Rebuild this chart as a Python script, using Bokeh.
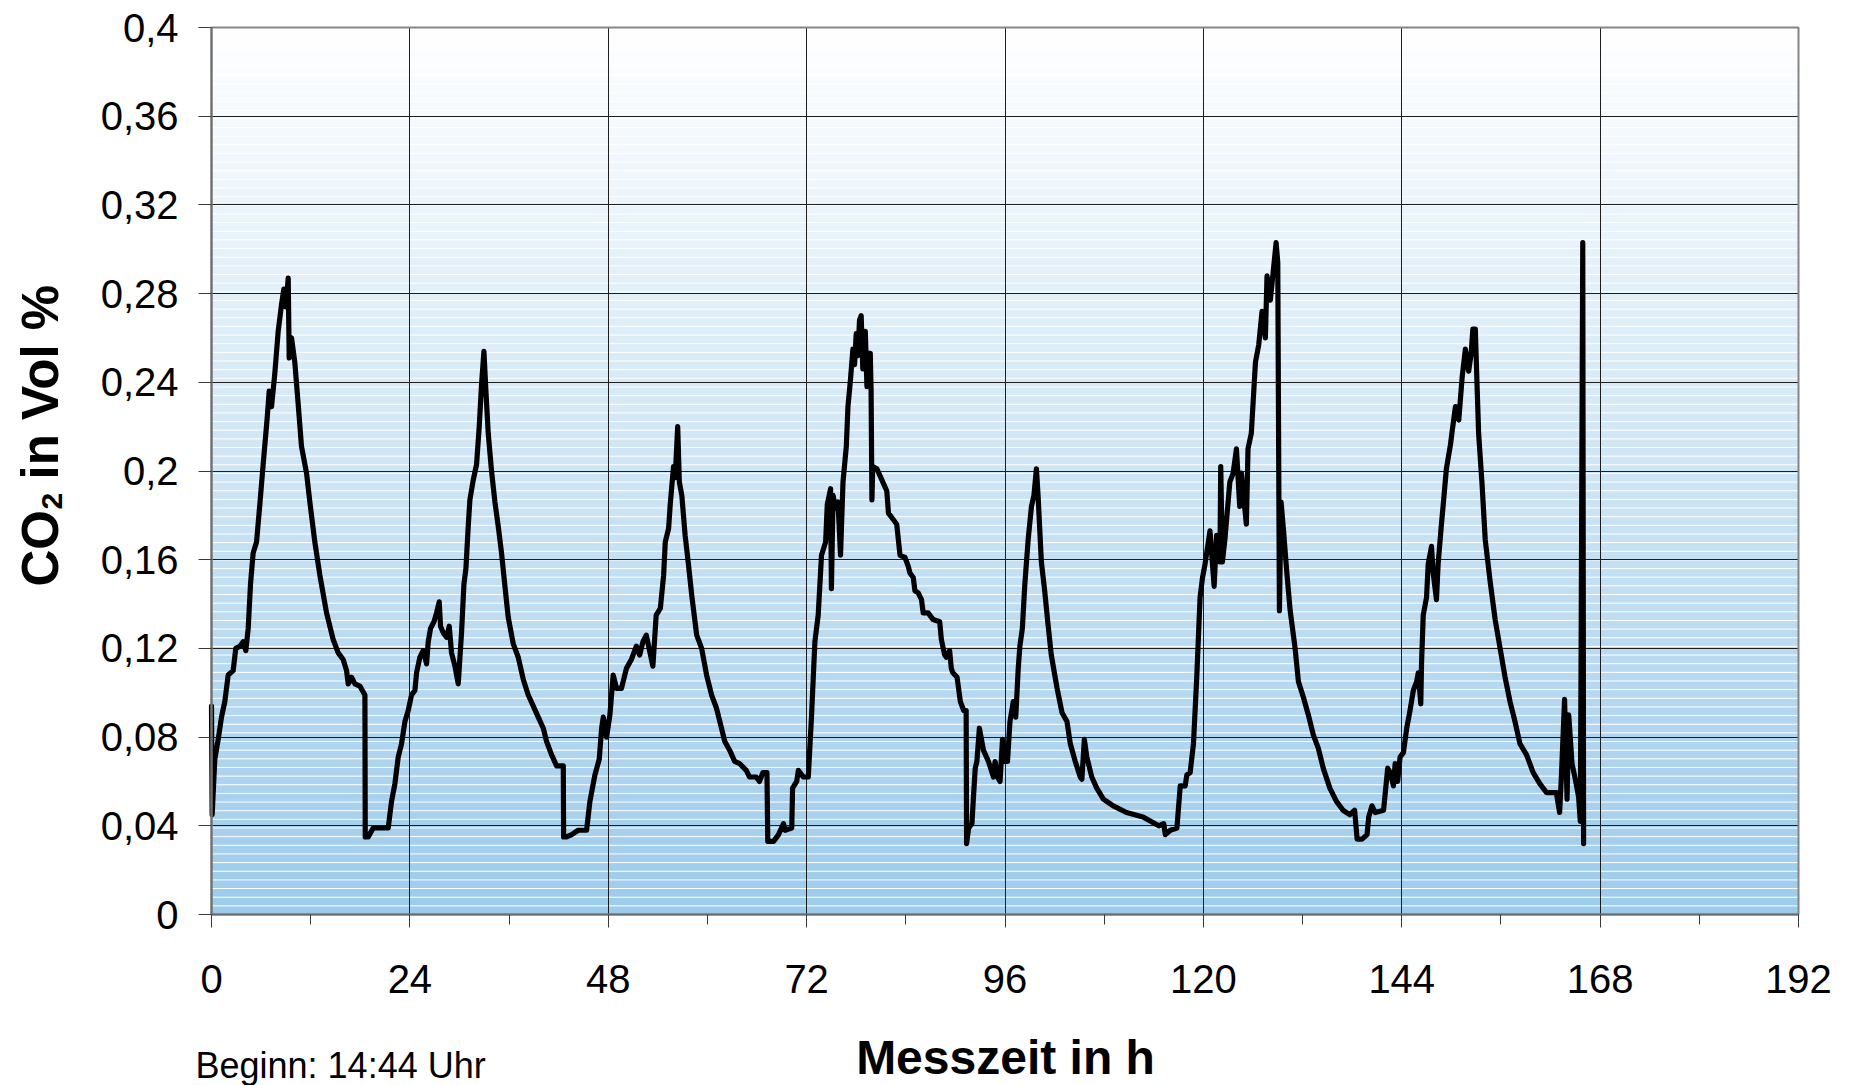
from bokeh.plotting import figure
from bokeh.models import Range1d, FixedTicker, Label, ColumnDataSource
from bokeh.embed import file_html
from bokeh.resources import INLINE

# Measured CO2 concentration over the measuring period
hours = [
    0.0, 0.08, 0.40, 0.81, 1.21, 1.61, 2.02, 2.62, 2.94, 3.43, 3.83, 4.15, 4.44, 4.72, 5.04, 5.45,
    5.85, 6.25, 6.74, 6.98, 7.26, 7.66, 8.07, 8.47, 8.75, 9.00, 9.28, 9.40, 9.68, 10.08, 10.49,
    10.89, 11.50, 11.90, 12.50, 13.11, 13.92, 14.72, 15.33, 15.93, 16.34, 16.54, 16.94, 17.35,
    17.95, 18.56, 18.60, 18.96, 19.56, 20.37, 21.38, 21.78, 22.19, 22.59, 22.99, 23.40, 23.80,
    24.20, 24.61, 24.81, 25.21, 25.61, 26.02, 26.22, 26.50, 26.91, 27.23, 27.55, 27.71, 28.04,
    28.44, 28.76, 29.04, 29.45, 29.85, 30.25, 30.54, 30.78, 31.06, 31.26, 31.67, 32.07, 32.39,
    32.67, 32.96, 33.20, 33.48, 33.88, 34.29, 34.69, 35.09, 35.50, 35.90, 36.51, 37.11, 37.72,
    38.32, 38.93, 39.53, 40.14, 40.54, 41.15, 41.75, 42.56, 42.60, 42.96, 43.57, 44.37, 45.38,
    45.78, 46.39, 46.91, 47.20,
    47.4, 47.8, 48.2, 48.6, 49.0, 49.6, 50.2, 50.8, 51.4, 51.8, 52.2, 52.6, 53.0, 53.4, 53.8,
    54.3, 54.7, 54.9, 55.3, 55.5, 55.9, 56.1, 56.4, 56.6, 56.9, 57.3, 57.7, 58.1, 58.7, 59.3,
    59.9, 60.5, 61.1, 61.7, 62.1, 62.7, 63.3, 63.9, 64.7, 65.1, 65.9, 66.3, 66.7, 67.2, 67.3,
    68.0, 68.6, 69.2, 69.4, 70.2, 70.3, 70.8, 71.0, 71.6, 72.2, 72.6, 73.0, 73.4, 73.8, 74.3,
    74.5, 74.9, 75.0, 75.2, 75.5, 75.8, 76.1, 76.4, 76.8, 77.0, 77.3,
    77.6, 77.8, 78.0, 78.2, 78.4, 78.6, 78.8,
    79.1, 79.3, 79.5, 79.7, 79.8, 79.9, 80.0, 80.5, 81.1, 81.7, 81.9, 82.3, 82.9, 83.3, 83.9,
    84.3, 84.5, 84.9, 85.1, 85.5, 85.9, 86.1, 86.7, 87.3, 88.1, 88.3, 88.7, 88.9, 89.3, 89.5,
    89.7, 90.2, 90.6, 91.0, 91.3, 91.35, 91.6, 92.0, 92.2, 92.4, 92.6, 92.9, 93.4, 94.0, 94.6,
    94.8, 95.1, 95.4, 95.7, 96.0, 96.3, 96.6, 97.0, 97.3, 97.6, 97.8, 98.1, 98.4, 98.8, 99.2,
    99.5, 99.8, 100.0, 100.4, 100.8, 101.2, 101.6, 102.3, 102.9, 103.5, 103.9, 104.5, 105.1,
    105.3, 105.6, 105.9, 106.5, 107.1, 107.9, 109.1, 110.7, 112.7, 114.6,
    115.2, 115.4, 116.0, 116.8, 117.2, 117.8, 118.0, 118.4, 118.8, 119.2, 119.6, 119.9, 120.2,
    120.8, 121.3, 121.6, 122.0, 122.1, 122.3, 122.6, 123.2, 123.6, 124.0, 124.4, 124.6, 125.2,
    125.4, 125.8, 126.3, 126.7, 127.1, 127.5, 127.7, 128.1, 128.4, 128.8, 129.0, 129.2, 129.4,
    129.7, 130.1, 130.5, 131.1, 131.5, 132.1, 132.7, 133.3, 133.9, 134.5, 135.3, 136.1, 136.9,
    137.7, 138.3, 138.6, 139.2, 139.8, 140.0, 140.4, 140.8, 141.8, 142.3, 142.6, 143.0, 143.2,
    143.5, 143.8, 144.2, 144.6, 145.0, 145.4, 145.8, 146.0, 146.3, 146.4, 146.6, 147.0, 147.2,
    147.6, 147.8, 148.2, 148.4, 148.8, 149.0, 149.4, 149.9, 150.1, 150.5, 150.9, 151.3, 151.7,
    152.1, 152.4, 152.6, 152.9, 153.1, 153.3, 153.7, 154.1, 154.7, 155.3, 155.9, 156.5, 157.1,
    157.7, 158.3, 159.1, 159.9, 160.7, 161.5, 162.7, 163.1, 163.3, 163.7, 164.0, 164.2, 164.6,
    165.0, 165.4, 165.6, 165.7, 165.9, 166.0,
]

co2 = [
    0.094, 0.045, 0.070, 0.079, 0.089, 0.096, 0.108, 0.110, 0.120, 0.121, 0.123, 0.119, 0.129,
    0.149, 0.163, 0.168, 0.185, 0.203, 0.224, 0.236, 0.229, 0.244, 0.263, 0.275, 0.282, 0.274,
    0.287, 0.251, 0.260, 0.249, 0.230, 0.211, 0.199, 0.186, 0.168, 0.153, 0.136, 0.124, 0.118,
    0.115, 0.110, 0.104, 0.107, 0.104, 0.103, 0.099, 0.035, 0.035, 0.039, 0.039, 0.039, 0.051,
    0.059, 0.071, 0.077, 0.087, 0.092, 0.099, 0.101, 0.109, 0.116, 0.119, 0.113, 0.123, 0.129,
    0.132, 0.136, 0.141, 0.130, 0.127, 0.125, 0.130, 0.118, 0.112, 0.104, 0.127, 0.149, 0.156,
    0.175, 0.187, 0.196, 0.203, 0.220, 0.239, 0.254, 0.236, 0.217, 0.200, 0.186, 0.175, 0.163,
    0.148, 0.134, 0.122, 0.116, 0.106, 0.099, 0.094, 0.089, 0.084, 0.078, 0.072, 0.067, 0.067,
    0.035, 0.035, 0.036, 0.038, 0.038, 0.051, 0.063, 0.070, 0.084,
    0.089, 0.080, 0.090, 0.108, 0.102, 0.102, 0.111, 0.115, 0.121, 0.117, 0.123, 0.126, 0.119,
    0.112, 0.135, 0.138, 0.153, 0.168, 0.174, 0.185, 0.202, 0.197, 0.220, 0.195, 0.189, 0.171,
    0.158, 0.144, 0.126, 0.120, 0.108, 0.099, 0.093, 0.084, 0.078, 0.074, 0.069, 0.068, 0.065,
    0.062, 0.062, 0.060, 0.064, 0.064, 0.033, 0.033, 0.036, 0.041, 0.038, 0.039, 0.057, 0.060,
    0.065, 0.062, 0.062, 0.090, 0.123, 0.135, 0.162, 0.168, 0.185, 0.192, 0.147, 0.189, 0.183,
    0.186, 0.162, 0.195, 0.211, 0.229, 0.241,
    0.255, 0.248, 0.262, 0.252, 0.268, 0.270, 0.246,
    0.263, 0.238, 0.253, 0.253, 0.236, 0.187, 0.202, 0.201, 0.196, 0.191, 0.181, 0.179, 0.176,
    0.162, 0.161, 0.157, 0.154, 0.152, 0.146, 0.145, 0.142, 0.136, 0.136, 0.133, 0.132, 0.124,
    0.117, 0.116, 0.119, 0.111, 0.109, 0.107, 0.096, 0.092, 0.092, 0.032, 0.039, 0.041, 0.054,
    0.066, 0.069, 0.084, 0.074, 0.069, 0.062, 0.069, 0.062, 0.060, 0.079, 0.069, 0.069, 0.087,
    0.096, 0.089, 0.111, 0.121, 0.129, 0.149, 0.169, 0.184, 0.189, 0.201, 0.189, 0.159, 0.146,
    0.131, 0.117, 0.102, 0.091, 0.087, 0.077, 0.069, 0.062, 0.061, 0.079, 0.071, 0.062, 0.057,
    0.052, 0.049, 0.046, 0.044, 0.040,
    0.041, 0.036, 0.038, 0.039, 0.058, 0.058, 0.063, 0.064, 0.077, 0.107, 0.143, 0.152, 0.158,
    0.173, 0.148, 0.171, 0.159, 0.202, 0.159, 0.169, 0.195, 0.199, 0.210, 0.184, 0.199, 0.176,
    0.210, 0.217, 0.249, 0.257, 0.272, 0.260, 0.288, 0.277, 0.288, 0.303, 0.294, 0.137, 0.186,
    0.173, 0.154, 0.137, 0.120, 0.105, 0.098, 0.090, 0.081, 0.075, 0.066, 0.057, 0.051, 0.047,
    0.045, 0.047, 0.034, 0.034, 0.036, 0.044, 0.049, 0.046, 0.047, 0.066, 0.064, 0.058, 0.068,
    0.060, 0.071, 0.073, 0.084, 0.092, 0.101, 0.105, 0.109, 0.095, 0.114, 0.135, 0.143, 0.158,
    0.166, 0.154, 0.142, 0.158, 0.176, 0.184, 0.201, 0.212, 0.218, 0.229, 0.223, 0.242, 0.255,
    0.245, 0.253, 0.264, 0.264, 0.240, 0.217, 0.195, 0.169, 0.150, 0.133, 0.120, 0.107, 0.096,
    0.087, 0.077, 0.072, 0.064, 0.059, 0.055, 0.055, 0.046, 0.061, 0.097, 0.052, 0.090, 0.068,
    0.061, 0.053, 0.042, 0.118, 0.303, 0.032,
]

x_ticks = [0, 24, 48, 72, 96, 120, 144, 168, 192]
x_minor_ticks = [12, 36, 60, 84, 108, 132, 156, 180]
y_ticks = [0, 0.04, 0.08, 0.12, 0.16, 0.2, 0.24, 0.28, 0.32, 0.36, 0.4]
y_tick_labels = ["0", "0,04", "0,08", "0,12", "0,16", "0,2", "0,24", "0,28", "0,32", "0,36", "0,4"]

X_MAX = 192
Y_MAX = 0.4
FONT = "Liberation Sans"

# Page geometry in pixels: the plot area sits inside a canvas-wide frame,
# so the titles around it are drawn without being clipped.
W, H = 1850, 1085
AREA_L, AREA_R, AREA_T, AREA_B = 211, 1798, 27, 914
kx = (AREA_R - AREA_L) / X_MAX
ky = (AREA_B - AREA_T) / Y_MAX
x_lo, x_hi = -AREA_L / kx, X_MAX + (W - AREA_R) / kx
y_lo, y_hi = -(H - AREA_B) / ky, Y_MAX + AREA_T / ky


def px_x(px):
    return x_lo + px / kx


def px_y(py):
    return y_hi - py / ky


MID = 0.3465  # distance from the text's vertical middle to its baseline, in em

p = figure(
    width=W, height=H,
    x_range=Range1d(x_lo, x_hi), y_range=Range1d(y_lo, y_hi),
    output_backend="svg", toolbar_location=None,
    min_border=0, min_border_left=0, min_border_right=0, min_border_top=0, min_border_bottom=0,
    background_fill_color="white", border_fill_color="white",
)
p.outline_line_color = None

# Plot area fill: white at the top fading to light blue, banded with thin white lines
top_rgb = (255, 255, 255)
bottom_rgb = (157, 203, 236)
band = 0.0039
n_bands = int(Y_MAX / band) + 1
b_bottom, b_top, b_color = [], [], []
for i in range(n_bands):
    lo = i * band
    hi = min((i + 1) * band, Y_MAX)
    t = ((lo + hi) / 2) / Y_MAX
    rgb = tuple(int(round(b + (a - b) * t)) for a, b in zip(top_rgb, bottom_rgb))
    b_bottom.append(lo)
    b_top.append(hi)
    b_color.append("#%02x%02x%02x" % rgb)
bands = ColumnDataSource(dict(bottom=b_bottom, top=b_top, color=b_color))
p.quad(left=0, right=X_MAX, bottom="bottom", top="top", fill_color="color",
       line_color=None, source=bands, level="image")
stripe_y = [i * band for i in range(1, n_bands) if i * band < Y_MAX]
p.segment(x0=0, x1=X_MAX, y0=stripe_y, y1=stripe_y, line_color="white",
          line_width=1, level="image")

# Measurement curve
p.line(hours, co2, line_color="black", line_width=5.2, line_join="round", line_cap="round")

# Border of the plot area
p.quad(left=0, right=X_MAX, bottom=0, top=Y_MAX, fill_color=None,
       line_color="#858585", line_width=2)

# Grid restricted to the plot area
p.xgrid.ticker = FixedTicker(ticks=x_ticks)
p.ygrid.ticker = FixedTicker(ticks=y_ticks)
p.xgrid.bounds = (0, X_MAX)
p.xgrid.cross_bounds = (0, Y_MAX)
p.ygrid.bounds = (0, Y_MAX)
p.ygrid.cross_bounds = (0, X_MAX)
for g in (p.xgrid, p.ygrid):
    g.grid_line_color = "#1e1e1e"
    g.grid_line_width = 1

# Axes pinned to the edges of the plot area
p.xaxis.fixed_location = 0
p.yaxis.fixed_location = 0
p.xaxis.bounds = (0, X_MAX)
p.yaxis.bounds = (0, Y_MAX)
p.xaxis.ticker = FixedTicker(ticks=x_ticks, minor_ticks=x_minor_ticks)
p.yaxis.ticker = FixedTicker(ticks=y_ticks)
p.yaxis.major_label_overrides = dict(zip(y_ticks, y_tick_labels))
for ax in (p.xaxis, p.yaxis):
    ax.axis_line_color = "#6e6e6e"
    ax.axis_line_width = 2
    ax.major_tick_line_color = "#3a3a3a"
    ax.major_tick_line_width = 1
    ax.major_tick_in = 0
    ax.major_tick_out = 13
    ax.major_label_text_font = FONT
    ax.major_label_text_font_size = "40px"
    ax.major_label_text_color = "black"
p.xaxis.minor_tick_line_color = "#3a3a3a"
p.xaxis.minor_tick_in = 0
p.xaxis.minor_tick_out = 10
p.yaxis.minor_tick_line_color = None
p.xaxis.major_label_standoff = 37
p.yaxis.major_label_standoff = 20


def add_text(text, px, py, size, bold=True, rotated=False, align="left"):
    # (px, py) is the baseline start point in page pixels; the label is anchored at its middle
    shift = MID * size
    if rotated:
        x, y, angle = px_x(px - shift), px_y(py), 90
    else:
        x, y, angle = px_x(px), px_y(py - shift), 0
    p.add_layout(Label(x=x, y=y, x_units="data", y_units="data", text=text,
                       angle=angle, angle_units="deg", text_align=align,
                       text_baseline="middle", text_font=FONT,
                       text_font_style="bold" if bold else "normal",
                       text_font_size=f"{size}px", text_color="black"))


# Axis titles and the start-time note
add_text("CO", 58, 586, 51, rotated=True)
add_text("2", 62, 509, 30, rotated=True)
add_text("in Vol %", 58, 479, 51, rotated=True)
add_text("Messzeit in h", 1005, 1074, 48, align="center")
add_text("Beginn: 14:44 Uhr", 195, 1077, 36, bold=False)

open("out.html", "w").write(file_html(p, INLINE))
